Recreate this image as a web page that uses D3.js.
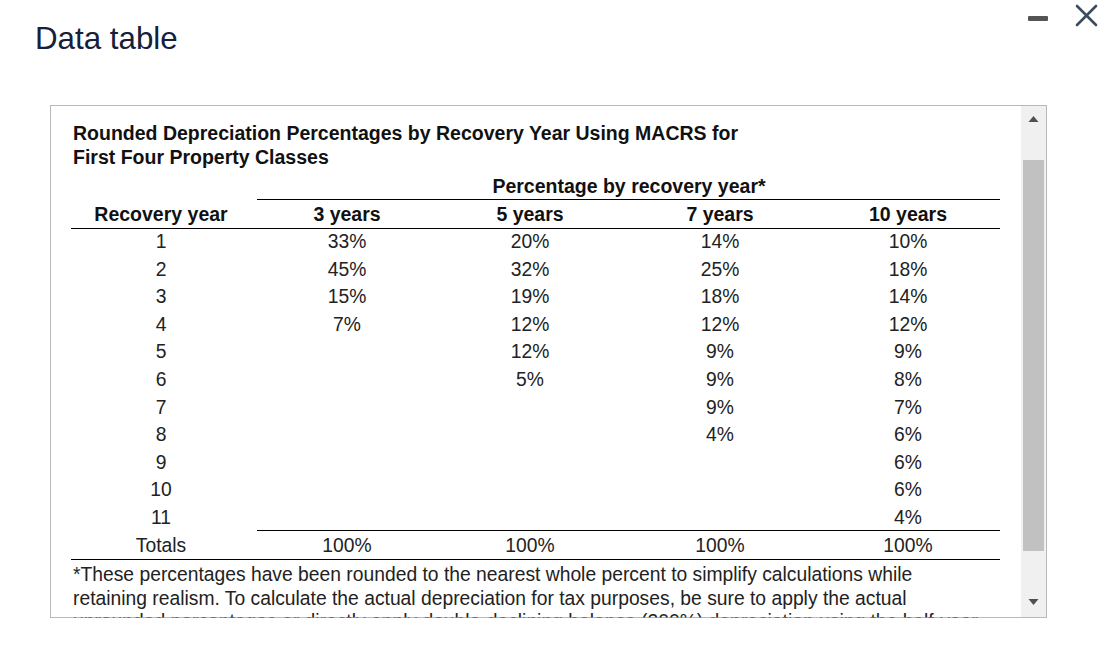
<!DOCTYPE html>
<html>
<head>
<meta charset="utf-8">
<script src="https://cdn.jsdelivr.net/npm/d3@7"></script>
<style>
html,body{margin:0;padding:0;background:#fff;}
svg{display:block;font-family:"Liberation Sans",Arial,sans-serif;}
</style>
</head>
<body>
<svg id="chart" width="1120" height="660"></svg>
<script>
// ---- data ----
const pageTitle = "Data table";
const tableTitle = ["Rounded Depreciation Percentages by Recovery Year Using MACRS for", "First Four Property Classes"];
const groupHeader = "Percentage by recovery year*";
const rowHeader = "Recovery year";
const classes = ["3 years", "5 years", "7 years", "10 years"];
const recoveryYears = [1, 2, 3, 4, 5, 6, 7, 8, 9, 10, 11];
const pct3 = [33, 45, 15, 7];
const pct5 = [20, 32, 19, 12, 12, 5];
const pct7 = [14, 25, 18, 12, 9, 9, 9, 4];
const pct10 = [10, 18, 14, 12, 9, 8, 7, 6, 6, 6, 4];
const totalsLabel = "Totals";
const totals = [100, 100, 100, 100];
const footnote = [
  "*These percentages have been rounded to the nearest whole percent to simplify calculations while",
  "retaining realism. To calculate the actual depreciation for tax purposes, be sure to apply the actual",
  "unrounded percentages or directly apply double-declining balance (200%) depreciation using the half-year"
];

const series = [pct3, pct5, pct7, pct10];

const svg = d3.select("#chart");

// Page title
svg.append("text").attr("x", 35).attr("y", 49)
  .attr("font-size", 31.3).attr("fill", "#16203a").text(pageTitle);

// Window icons
svg.append("rect").attr("x", 1028).attr("y", 16).attr("width", 20).attr("height", 5)
  .attr("rx", 1).attr("fill", "#545454");
const xg = svg.append("g").attr("stroke", "#3b4c5c").attr("stroke-width", 2.6).attr("stroke-linecap", "round");
xg.append("line").attr("x1", 1077).attr("y1", 6).attr("x2", 1096).attr("y2", 25);
xg.append("line").attr("x1", 1096).attr("y1", 6).attr("x2", 1077).attr("y2", 25);

// Scroll box
const box = {x: 50.5, y: 105.5, w: 996, h: 512};
svg.append("defs").append("clipPath").attr("id", "clip")
  .append("rect").attr("x", box.x + 1).attr("y", box.y + 1).attr("width", box.w - 26).attr("height", box.h - 1);
svg.append("rect").attr("x", box.x).attr("y", box.y).attr("width", box.w).attr("height", box.h)
  .attr("fill", "#fff").attr("stroke", "#b9b9b9");

// Scrollbar
svg.append("rect").attr("x", 1021).attr("y", 106).attr("width", 25).attr("height", 511).attr("fill", "#f0f0f0");
svg.append("rect").attr("x", 1023).attr("y", 160).attr("width", 21).attr("height", 391).attr("fill", "#c1c1c1");
svg.append("path").attr("d", "M1028.5,122 L1033.5,116 L1038.5,122 Z").attr("fill", "#505050");
svg.append("path").attr("d", "M1028.5,599 L1033.5,605 L1038.5,599 Z").attr("fill", "#505050");

const g = svg.append("g").attr("clip-path", "url(#clip)").attr("fill", "#111");

const fsB = 19.5;  // bold headings
const fs = 19.3;   // regular body

// Table title
g.selectAll("text.ttl").data(tableTitle).join("text").attr("class", "ttl")
  .attr("x", 73).attr("y", (d, i) => 140 + i * 24)
  .attr("font-size", fsB).attr("font-weight", "bold").attr("fill", "#111").text(d => d);

// Scales
const rowKeys = ["head"].concat(recoveryYears.map(String)).concat(["tot"]);
const y = d3.scalePoint().domain(rowKeys).range([214, 545]);
const colKeys = ["rec"].concat(classes);
const xCenters = [161, 347, 530, 720, 908];
const x = d3.scaleOrdinal().domain(colKeys).range(xCenters);

// Group header
g.append("text").attr("x", 629).attr("y", 186).attr("text-anchor", "middle")
  .attr("dominant-baseline", "central").attr("font-size", fsB).attr("font-weight", "bold").text(groupHeader);

// Column headers
g.selectAll("text.ch").data(colKeys).join("text").attr("class", "ch")
  .attr("x", d => x(d)).attr("y", y("head")).attr("text-anchor", "middle")
  .attr("dominant-baseline", "central").attr("font-size", fsB).attr("font-weight", "bold")
  .text(d => d === "rec" ? rowHeader : d);

// Row labels
g.selectAll("text.rl").data(recoveryYears).join("text").attr("class", "rl")
  .attr("x", x("rec")).attr("y", d => y(String(d))).attr("text-anchor", "middle")
  .attr("dominant-baseline", "central").attr("font-size", fs).attr("fill", "#222").text(d => d);

// Values
const cells = [];
series.forEach((s, ci) => s.forEach((v, ri) => cells.push({c: classes[ci], r: String(recoveryYears[ri]), v})));
g.selectAll("text.val").data(cells).join("text").attr("class", "val")
  .attr("x", d => x(d.c)).attr("y", d => y(d.r)).attr("text-anchor", "middle")
  .attr("dominant-baseline", "central").attr("font-size", fs).attr("fill", "#222").text(d => d.v + "%");

// Totals
g.append("text").attr("x", x("rec")).attr("y", y("tot")).attr("text-anchor", "middle")
  .attr("dominant-baseline", "central").attr("font-size", fs).attr("fill", "#222").text(totalsLabel);
g.selectAll("text.tot").data(totals).join("text").attr("class", "tot")
  .attr("x", (d, i) => x(classes[i])).attr("y", y("tot")).attr("text-anchor", "middle")
  .attr("dominant-baseline", "central").attr("font-size", fs).attr("fill", "#222").text(d => d + "%");

// Rules
const rules = [
  {x1: 257, x2: 1000, y: 199.5},
  {x1: 71, x2: 1000, y: 228.5},
  {x1: 257, x2: 1000, y: 530.5},
  {x1: 71, x2: 1000, y: 559.5}
];
g.selectAll("line.rule").data(rules).join("line").attr("class", "rule")
  .attr("x1", d => d.x1).attr("x2", d => d.x2).attr("y1", d => d.y).attr("y2", d => d.y)
  .attr("stroke", "#000").attr("stroke-width", 1.2);

// Footnote
g.selectAll("text.fn").data(footnote).join("text").attr("class", "fn")
  .attr("x", 73).attr("y", (d, i) => 581 + i * 23.5)
  .attr("font-size", fs).attr("fill", "#222").text(d => d);
</script>
</body>
</html>
